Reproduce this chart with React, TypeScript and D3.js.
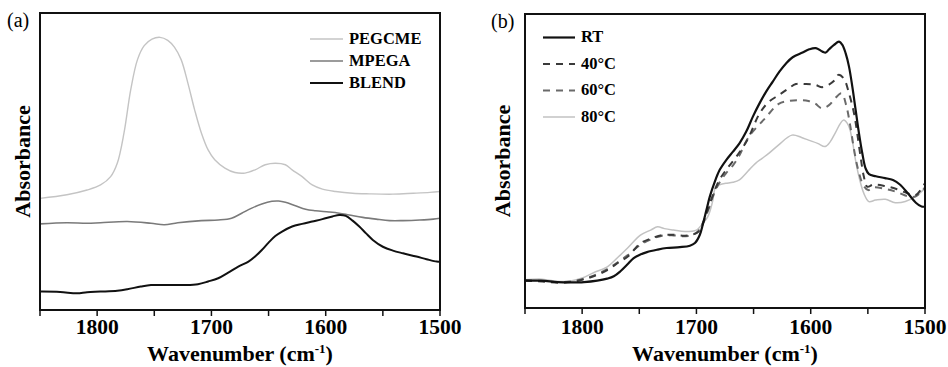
import React from "react";
import * as d3 from "d3";

// ---------- Data ----------
const xTicksMajor = [1800, 1700, 1600, 1500];
const xTicksAll = [1850, 1800, 1750, 1700, 1650, 1600, 1550, 1500];

// Panel (a): [wavenumber, absorbance (arb.)]
const pegcme: [number, number][] = [
  [1850, 37.6], [1826.5, 38.8], [1808.8, 40.4], [1797, 42.1], [1788.2, 44.9], [1782.4, 49.4],
  [1776.5, 59.6], [1770.6, 74.2], [1764.7, 84.3], [1758.8, 89.0], [1752, 91.2], [1745, 91.8],
  [1738.2, 90.8], [1732.4, 88.5], [1726.5, 84.3], [1720.6, 76.4], [1714.7, 67.4], [1708.8, 59.6],
  [1702.9, 53.9], [1697.1, 50.6], [1688.2, 47.8], [1679.4, 46.3], [1670.6, 46.1], [1661.8, 47.2],
  [1652.9, 48.9], [1644.1, 49.4], [1635.3, 48.9], [1629.4, 47.2], [1620.6, 44.9], [1611.8, 42.1],
  [1602.9, 40.7], [1591.2, 39.9], [1576.5, 39.3], [1561.8, 39.1], [1541.2, 39.0], [1523.5, 39.3],
  [1508.8, 39.6], [1500, 39.9],
];
const mpega: [number, number][] = [
  [1850, 29.0], [1826.5, 29.4], [1808.8, 29.2], [1797, 29.4], [1773.5, 29.8], [1752.9, 29.2],
  [1741.2, 28.7], [1729.4, 29.4], [1708.8, 30.1], [1694.1, 30.3], [1682.4, 30.9], [1673.5, 32.6],
  [1664.7, 34.3], [1655.9, 35.7], [1647.1, 36.6], [1641.2, 36.7], [1635.3, 36.3], [1626.5, 35.1],
  [1617.6, 33.9], [1608.8, 33.4], [1597.1, 33.0], [1588.2, 32.6], [1579.4, 32.0], [1567.6, 31.2],
  [1555.9, 30.6], [1544.1, 30.1], [1532.4, 30.1], [1517.6, 30.3], [1505.9, 30.6], [1500, 30.9],
];
const blend: [number, number][] = [
  [1850, 6.2], [1832.4, 6.1], [1817.6, 5.6], [1808.8, 6.0], [1797.1, 6.2], [1782.4, 6.5],
  [1773.5, 7.0], [1761.8, 7.9], [1752.9, 8.4], [1738.2, 8.4], [1723.5, 8.4], [1711.8, 8.7],
  [1702.9, 9.6], [1694.1, 10.7], [1685.3, 12.6], [1676.5, 14.6], [1667.6, 16.3], [1661.8, 18.0],
  [1655.9, 20.2], [1650, 22.7], [1644.1, 24.9], [1638.2, 26.4], [1629.4, 28.1], [1620.6, 29.0],
  [1611.8, 29.8], [1602.9, 30.6], [1594.1, 31.5], [1588.2, 32.0], [1582.4, 31.7], [1576.5, 30.1],
  [1570.6, 28.1], [1564.7, 25.8], [1558.8, 23.6], [1550, 21.3], [1541.2, 20.0], [1532.4, 19.1],
  [1520.6, 18.0], [1511.8, 17.1], [1502.9, 16.3], [1500, 16.3],
];

// Panel (b)
const rt: [number, number][] = [
  [1850, 9.3], [1836, 9.3], [1821.6, 8.8], [1810, 8.7], [1798.4, 8.8], [1786.8, 9.3],
  [1778.1, 10.0], [1772.3, 10.8], [1766.5, 12.5], [1760.7, 14.7], [1754.9, 17.0], [1749.1, 18.2],
  [1743.3, 19.0], [1734.6, 19.8], [1726.1, 20.4], [1714.5, 20.7], [1705.7, 21.2], [1701.3, 22.1],
  [1697, 24.9], [1694.1, 28.9], [1691.2, 33.4], [1688.3, 37.9], [1683.9, 43.0], [1679.6, 47.0],
  [1673.8, 50.4], [1668, 53.2], [1662.2, 56.1], [1656.4, 60.0], [1650.6, 65.1], [1644.8, 69.6],
  [1639, 73.6], [1633.2, 77.0], [1627.4, 80.4], [1621.6, 83.2], [1615.8, 85.3], [1607.1, 86.9],
  [1601.3, 88.0], [1595.5, 88.4], [1589.7, 87.2], [1586.8, 86.9], [1583.9, 88.0], [1579.6, 89.5],
  [1575.2, 90.6], [1572.3, 89.5], [1569.4, 86.6], [1566.5, 82.1], [1563.6, 75.3], [1560.7, 67.4],
  [1557.8, 59.5], [1554.9, 52.7], [1552, 47.5], [1549, 45.5], [1543, 44.8], [1535, 44.2],
  [1528, 43.5], [1522, 42.0], [1515, 39.0], [1508, 35.8], [1503, 34.5], [1500, 34.5],
];
const t40: [number, number][] = [
  [1850, 9.3], [1835, 9.0], [1820, 8.6], [1810, 8.8], [1800, 9.6], [1790, 10.8], [1778, 12.9],
  [1768, 15.5], [1760, 17.5], [1749, 22.0], [1740, 23.6], [1730, 24.8], [1720, 24.9], [1710, 24.6],
  [1704, 24.9], [1698, 26.0], [1694, 29.0], [1690, 33.5], [1685, 39.0], [1680, 43.5], [1673, 47.5],
  [1665, 51.5], [1655, 57.5], [1645, 66.0], [1637, 70.0], [1628, 72.4], [1620, 74.5], [1613, 76.2],
  [1605, 76.2], [1596, 75.9], [1590, 75.1], [1584, 76.0], [1578.7, 77.6], [1575.8, 79.3],
  [1571, 78.0], [1566.5, 73.0], [1562, 66.0], [1559.3, 59.4], [1556.4, 51.5], [1553.5, 44.7],
  [1550.6, 41.3], [1545, 42.0], [1535, 41.5], [1525, 40.5], [1515, 39.0], [1508, 38.5], [1500, 42.5],
];
const t60: [number, number][] = [
  [1850, 9.5], [1835, 9.2], [1820, 8.8], [1810, 9.0], [1800, 9.8], [1790, 11.0], [1778, 13.2],
  [1768, 15.8], [1760, 18.0], [1749, 21.5], [1740, 23.3], [1730, 24.6], [1720, 24.7], [1710, 24.4],
  [1704, 24.7], [1698, 26.3], [1694, 29.3], [1690, 33.0], [1685, 38.5], [1680, 42.5], [1674, 45.9],
  [1668, 48.5], [1663, 51.5], [1654, 58.3], [1640, 64.5], [1628, 69.4], [1618, 70.5], [1610.6, 70.7],
  [1602, 70.4], [1596, 69.5], [1590.3, 67.9], [1584, 69.0], [1578.7, 71.3], [1573, 73.0],
  [1569, 69.0], [1565.5, 62.2], [1562, 53.7], [1558.4, 46.9], [1554, 41.8], [1549.7, 40.1],
  [1545, 41.0], [1535, 40.5], [1525, 39.5], [1515, 38.0], [1508, 38.0], [1500, 41.0],
];
const t80: [number, number][] = [
  [1850, 9.6], [1835, 9.8], [1820, 9.0], [1810, 9.2], [1800, 10.2], [1790, 12.0], [1778, 14.0],
  [1768, 17.5], [1760, 20.5], [1749, 24.8], [1740, 26.5], [1734, 27.6], [1728, 27.0], [1720, 26.5],
  [1710, 26.0], [1700, 26.5], [1695, 28.5], [1690, 31.1], [1686, 36.0], [1683, 41.3], [1679, 42.0],
  [1674.3, 42.4], [1668, 42.8], [1662.8, 43.5], [1655, 46.5], [1648.3, 49.2], [1642.5, 50.9],
  [1636.7, 52.6], [1628, 55.5], [1616.4, 58.8], [1608, 58.0], [1601.9, 57.1], [1594, 56.0],
  [1587.4, 54.9], [1583, 56.5], [1578.7, 59.4], [1571.5, 63.9], [1567.1, 62.2], [1563.7, 57.1],
  [1560.8, 50.3], [1557.8, 44.7], [1553.5, 39.0], [1549.1, 36.2], [1543.3, 36.7], [1534.7, 37.0],
  [1526, 35.8], [1517.3, 36.2], [1508.6, 37.9], [1500, 40.7],
];

const legendA = ["PEGCME", "MPEGA", "BLEND"];
const legendB = ["RT", "40\u00B0C", "60\u00B0C", "80\u00B0C"];

const FONT = "'Liberation Serif', 'Times New Roman', serif";

type Series = { data: [number, number][]; color: string; width: number; dash?: string };

function Panel(props: {
  left: number; right: number; top: number; bottom: number;
  series: Series[]; label: string; labelX: number; labelY: number; ylabelX: number;
  legend: { name: string; s: Series }[]; legX1: number; legX2: number; legTextX: number;
  legY0: number; legDy: number;
}) {
  const { left, right, top, bottom, series } = props;
  const x = d3.scaleLinear().domain([1850, 1500]).range([left, right]);
  const y = d3.scaleLinear().domain([0, 100]).range([bottom, top]);
  const line = d3
    .line<[number, number]>()
    .x((d) => x(d[0]))
    .y((d) => y(d[1]))
    .curve(d3.curveCatmullRom.alpha(0.5));
  const cx = (left + right) / 2;
  return (
    <g>
      <text x={props.labelX} y={props.labelY} fontFamily={FONT} fontSize={20}>{props.label}</text>
      {series.map((s, i) => (
        <path key={i} d={line(s.data) || ""} fill="none" stroke={s.color} strokeWidth={s.width}
          strokeDasharray={s.dash} strokeLinejoin="round" />
      ))}
      <rect x={left} y={top} width={right - left} height={bottom - top} fill="none" stroke="#111" strokeWidth={2} />
      {xTicksAll.map((t) => (
        <line key={t} x1={x(t)} x2={x(t)} y1={bottom} y2={bottom + 6} stroke="#111" strokeWidth={1.5} />
      ))}
      {xTicksMajor.map((t) => (
        <text key={t} x={x(t)} y={334} textAnchor="middle" fontFamily={FONT} fontWeight="bold" fontSize={21.5}>{t}</text>
      ))}
      <text x={cx} y={361} textAnchor="middle" fontFamily={FONT} fontWeight="bold" fontSize={22}>
        Wavenumber (cm<tspan dy={-8} fontSize={13}>-1</tspan><tspan dy={8}>)</tspan>
      </text>
      <text transform={`translate(${props.ylabelX},${(top + bottom) / 2}) rotate(-90)`} textAnchor="middle"
        dominantBaseline="central" fontFamily={FONT} fontWeight="bold" fontSize={22}>Absorbance</text>
      {props.legend.map((l, i) => {
        const yy = props.legY0 + i * props.legDy;
        return (
          <g key={l.name}>
            <line x1={props.legX1} x2={props.legX2} y1={yy} y2={yy} stroke={l.s.color} strokeWidth={l.s.width}
              strokeDasharray={l.s.dash} />
            <text x={props.legTextX} y={yy + 4.5} fontFamily={FONT} fontWeight="bold" fontSize={16.5}>{l.name}</text>
          </g>
        );
      })}
    </g>
  );
}

export default function App() {
  const sA: Series[] = [
    { data: pegcme, color: "#c4c4c4", width: 1.4 },
    { data: mpega, color: "#7a7a7a", width: 1.6 },
    { data: blend, color: "#111", width: 2 },
  ];
  const sB: Series[] = [
    { data: t80, color: "#c2c2c2", width: 1.5 },
    { data: t60, color: "#6a6a6a", width: 2, dash: "7,6" },
    { data: t40, color: "#3a3a3a", width: 2, dash: "7,6" },
    { data: rt, color: "#111", width: 2.2 },
  ];
  return (
    <svg width={948} height={367} style={{ display: "block", position: "fixed", left: 0, top: 0 }}>
      <rect x={0} y={0} width={948} height={367} fill="#fff" />
      <Panel left={40} right={440} top={13} bottom={310} series={sA} label="(a)" labelX={7} labelY={27}
        ylabelX={22} legend={legendA.map((n, i) => ({ name: n, s: sA[i] }))}
        legX1={310} legX2={343} legTextX={349} legY0={39} legDy={22} />
      <Panel left={525} right={925} top={14} bottom={308} series={sB} label="(b)" labelX={491} labelY={28}
        ylabelX={502} legend={legendB.map((n, i) => ({ name: n, s: sB[3 - i] }))}
        legX1={543} legX2={575} legTextX={581} legY0={37.5} legDy={26.5} />
    </svg>
  );
}
